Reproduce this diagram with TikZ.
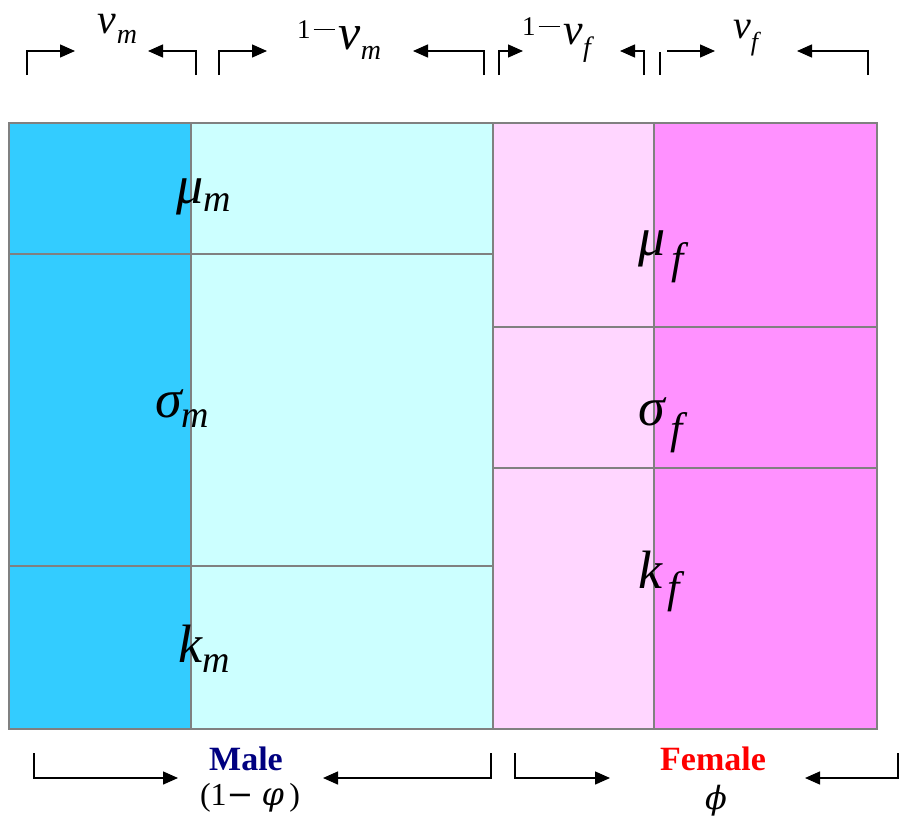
\documentclass[tikz,border=0pt]{standalone}
\usepackage{fontspec}
\setmainfont{Liberation Serif}
\newfontfamily\grkfont{DejaVu Serif}
\usetikzlibrary{arrows.meta}
\definecolor{maledark}{HTML}{33CCFF}
\definecolor{malelight}{HTML}{CCFFFF}
\definecolor{femlight}{HTML}{FFD6FF}
\definecolor{femdark}{HTML}{FF91FF}
\definecolor{edgegray}{HTML}{808080}
\definecolor{malenavy}{HTML}{000080}
\newcommand\fsz[1]{\fontsize{#1}{#1}\selectfont}
\newcommand\mnus{\kern3pt\raisebox{8pt}{\rule{21pt}{1.3pt}}\kern4pt}
\newcommand\cellsym[4]{{\fsz{54}\itshape #1}\raisebox{-#3pt}{\fsz{#4}\itshape #2}}
\tikzset{
  cell/.style={draw=edgegray, line width=1.5pt},
  brk/.style={line width=1.4pt, -{Triangle[length=15pt,width=13pt]}},
  lbl/.style={inner sep=0pt, anchor=base west},
}

\begin{document}
\begin{tikzpicture}[x=1pt,y=-1pt]
\useasboundingbox (0,0) rectangle (899,819);
% male cells
\draw[cell, fill=maledark] (9,123) rectangle (191,254);
\draw[cell, fill=maledark] (9,254) rectangle (191,566);
\draw[cell, fill=maledark] (9,566) rectangle (191,729);
\draw[cell, fill=malelight] (191,123) rectangle (493,254);
\draw[cell, fill=malelight] (191,254) rectangle (493,566);
\draw[cell, fill=malelight] (191,566) rectangle (493,729);
% female cells
\draw[cell, fill=femlight] (493,123) rectangle (654,327);
\draw[cell, fill=femlight] (493,327) rectangle (654,468);
\draw[cell, fill=femlight] (493,468) rectangle (654,729);
\draw[cell, fill=femdark] (654,123) rectangle (877,327);
\draw[cell, fill=femdark] (654,327) rectangle (877,468);
\draw[cell, fill=femdark] (654,468) rectangle (877,729);

\node[lbl] (mum) at (176,203) {\cellsym{μ}{m}{8}{38}};
\node[lbl] (sigm) at (155,417) {\cellsym{σ}{m}{10}{38}};
\node[lbl] (km) at (178,662) {\cellsym{k}{m}{10}{38}};
\node[lbl] (muf) at (638,255) {\cellsym{μ}{\kern6pt f}{18}{44}};
\node[lbl] (sigf) at (638,425) {\cellsym{σ}{\kern6pt f}{18}{44}};
\node[lbl] (kf) at (638,588) {\cellsym{k}{\kern5pt f}{14}{44}};

% top brackets
\foreach \a/\b in {27/75, 196/148, 219/267, 484/413, 499/523, 644/620, 868/797}
  \draw[brk] (\a,75) |- (\b,51);
\draw[line width=1.4pt] (660,52) -- (660,75);
\draw[brk] (667,51) -- (715,51);
\node[lbl] (vm) at (97,33) {{\fsz{42}\itshape v}\kern1pt\raisebox{-10pt}{\fsz{28}\itshape m}};
\node[lbl] (onevm) at (297,38) {{\fsz{27}1\mnus}\raisebox{-11pt}{\fsz{50}\itshape v}\raisebox{-21pt}{\fsz{28}\itshape m}};
\node[lbl] (onevf) at (522,35) {{\fsz{27}1\mnus}\raisebox{-9pt}{\fsz{44}\itshape v}\raisebox{-21pt}{\fsz{28}\itshape f}};
\node[lbl] (vf) at (733,38) {{\fsz{40}\itshape v}\raisebox{-12pt}{\fsz{26}\itshape f}};

% bottom brackets
\foreach \a/\b in {34/178, 491/323, 515/610, 898/805}
  \draw[brk] (\a,753) |- (\b,778);
\node[font=\fsz{34}\bfseries, text=malenavy] (male) at (246,759) {Male};
\node[font=\fsz{32}] (malefrac) at (250,798) {(1{\grkfont−} {\grkfont\itshape φ}\,)};
\node[font=\fsz{32}] (femfrac) at (716,801) {{\grkfont\itshape ϕ}};
\node[font=\fsz{34}\bfseries, text=red] (female) at (713,759) {Female};
\end{tikzpicture}
\end{document}
